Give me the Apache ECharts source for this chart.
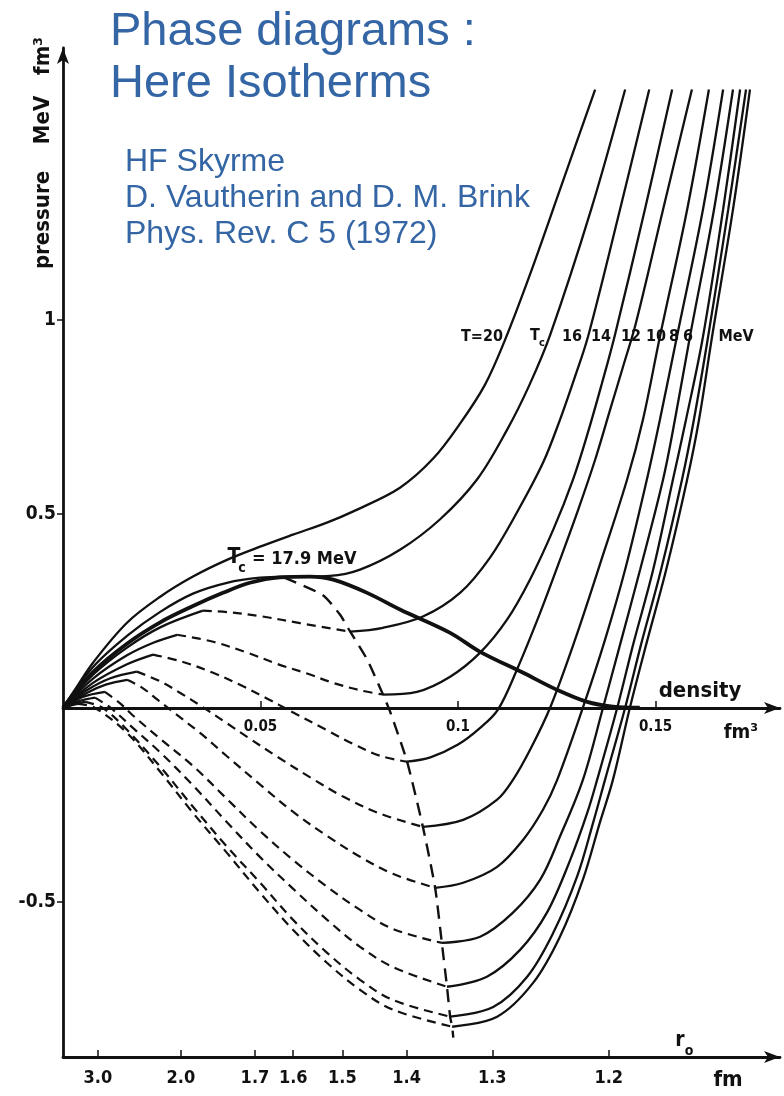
<!DOCTYPE html>
<html><head><meta charset="utf-8">
<script src="https://cdn.jsdelivr.net/npm/echarts@6/dist/echarts.min.js"></script>
<style>html,body{margin:0;padding:0;background:#fff;}#c{width:784px;height:1096px;}</style>
</head><body><div id="c"></div>
<script>
// ---- tick values ----
const densityTicks = [0.05, 0.1, 0.15];
const pressureTicks = [-0.5, 0.5, 1];
const r0Ticks = [3.0, 2.0, 1.7, 1.6, 1.5, 1.4, 1.3, 1.2];

// ---- isotherms above Tc (solid) : [density fm^-3, pressure MeV fm^-3] ----
const isoT20 = [[0,0],[0.003,0.046],[0.0076,0.116],[0.0162,0.219],[0.0246,0.286],[0.0329,0.338],[0.0415,0.381],[0.0499,0.415],[0.0582,0.446],[0.0668,0.477],[0.0739,0.508],[0.0853,0.567],[0.0937,0.642],[0.1005,0.732],[0.1068,0.832],[0.1119,0.948],[0.1182,1.116],[0.1258,1.335],[0.1347,1.593]];
const isoTc = [[0,0],[0.0076,0.105],[0.0162,0.185],[0.0246,0.247],[0.0329,0.294],[0.0415,0.322],[0.0499,0.335],[0.0582,0.338],[0.0676,0.340],[0.0752,0.356],[0.0853,0.407],[0.0954,0.485],[0.1048,0.588],[0.1124,0.716],[0.1180,0.830],[0.1233,0.960],[0.1337,1.284],[0.1423,1.593]];

// ---- coexistence curve (thick) and spinodal (dashed) ----
const coexistence = [[0,0],[0.0076,0.092],[0.0162,0.165],[0.0246,0.220],[0.0329,0.262],[0.0405,0.296],[0.0473,0.322],[0.0549,0.336],[0.0625,0.338],[0.0684,0.330],[0.0770,0.296],[0.0853,0.253],[0.0980,0.193],[0.1056,0.144],[0.1165,0.090],[0.1251,0.046],[0.1327,0.015],[0.1392,0.003],[0.146,0]];
const spinodal = [[0.0560,0.335],[0.0658,0.290],[0.0701,0.240],[0.0727,0.196],[0.0770,0.124],[0.0810,0.034],[0.0828,-0.010],[0.0871,-0.139],[0.0911,-0.307],[0.0942,-0.464],[0.0959,-0.606],[0.0972,-0.719],[0.0980,-0.796],[0.0985,-0.822],[0.0988,-0.850]];

// ---- isotherms below Tc: left solid, dashed middle, right solid ----
const iso16Left = [[0,0],[0.0076,0.085],[0.0162,0.155],[0.0246,0.207],[0.0354,0.250]];
const iso16Mid = [[0.0354,0.250],[0.0420,0.246],[0.0499,0.236],[0.0600,0.218],[0.0727,0.196]];
const iso16Right = [[0.0727,0.196],[0.0810,0.206],[0.0911,0.235],[0.1005,0.296],[0.1081,0.387],[0.1149,0.503],[0.1215,0.631],[0.1258,0.742],[0.1295,0.850],[0.1330,0.960],[0.1410,1.284],[0.1484,1.593]];

const iso14Left = [[0,0],[0.0076,0.075],[0.0162,0.135],[0.0230,0.168],[0.0289,0.188]];
const iso14Mid = [[0.0289,0.188],[0.0380,0.170],[0.0466,0.142],[0.0542,0.113],[0.0618,0.088],[0.0684,0.064],[0.0752,0.045],[0.0810,0.034]];
const iso14Right = [[0.0810,0.034],[0.0896,0.041],[0.0980,0.080],[0.1056,0.142],[0.1124,0.227],[0.1182,0.330],[0.1241,0.459],[0.1291,0.588],[0.1329,0.710],[0.1364,0.835],[0.1397,0.960],[0.1473,1.284],[0.1542,1.593]];

const iso12Left = [[0,0],[0.0076,0.064],[0.0162,0.112],[0.0228,0.137]];
const iso12Mid = [[0.0228,0.137],[0.0304,0.118],[0.0380,0.090],[0.0448,0.059],[0.0516,0.024],[0.0575,-0.008],[0.0668,-0.058],[0.0734,-0.093],[0.0803,-0.124],[0.0871,-0.139]];
const iso12Right = [[0.0871,-0.139],[0.0930,-0.128],[0.1000,-0.095],[0.1056,-0.052],[0.1101,-0.005],[0.1149,0.098],[0.1208,0.245],[0.1258,0.381],[0.1304,0.510],[0.1347,0.639],[0.1385,0.768],[0.1418,0.880],[0.1450,0.990],[0.1519,1.284],[0.1592,1.593]];

const iso10Left = [[0,0],[0.0060,0.045],[0.0120,0.076],[0.0187,0.093]];
const iso10Mid = [[0.0187,0.093],[0.0246,0.068],[0.0300,0.036],[0.0350,0.004],[0.0415,-0.040],[0.0466,-0.075],[0.0542,-0.126],[0.0633,-0.184],[0.0709,-0.229],[0.0803,-0.273],[0.0911,-0.307]];
const iso10Right = [[0.0911,-0.307],[0.1013,-0.289],[0.1099,-0.237],[0.1139,-0.186],[0.1185,-0.103],[0.1233,0],[0.1296,0.175],[0.1359,0.369],[0.1428,0.588],[0.1468,0.742],[0.1511,0.956],[0.1580,1.284],[0.1635,1.593]];

const iso8Left = [[0,0],[0.0060,0.038],[0.0110,0.060],[0.0162,0.072]];
const iso8Mid = [[0.0162,0.072],[0.0200,0.052],[0.0240,0.020],[0.0280,-0.012],[0.0347,-0.065],[0.0415,-0.125],[0.0499,-0.198],[0.0582,-0.268],[0.0668,-0.330],[0.0752,-0.384],[0.0835,-0.428],[0.0942,-0.464]];
const iso8Right = [[0.0942,-0.464],[0.1013,-0.451],[0.1099,-0.410],[0.1165,-0.340],[0.1215,-0.263],[0.1251,-0.186],[0.1316,0],[0.1372,0.175],[0.1423,0.356],[0.1478,0.588],[0.1511,0.742],[0.1554,0.956],[0.1620,1.284],[0.1671,1.593]];

const iso6Left = [[0,0],[0.0050,0.028],[0.0106,0.041]];
const iso6Mid = [[0.0106,0.041],[0.0144,0.012],[0.0177,-0.020],[0.0246,-0.080],[0.0329,-0.150],[0.0415,-0.235],[0.0499,-0.318],[0.0582,-0.392],[0.0668,-0.461],[0.0752,-0.521],[0.0835,-0.570],[0.0959,-0.606]];
const iso6Right = [[0.0959,-0.606],[0.1056,-0.590],[0.1139,-0.528],[0.1208,-0.443],[0.1258,-0.332],[0.1316,-0.186],[0.1367,0],[0.1410,0.162],[0.1461,0.356],[0.1519,0.588],[0.1549,0.742],[0.1587,0.956],[0.1648,1.284],[0.1696,1.593]];

const iso4Left = [[0,0],[0.0040,0.017],[0.0081,0.026]];
const iso4Mid = [[0.0081,0.026],[0.0120,0.000],[0.0177,-0.052],[0.0246,-0.115],[0.0329,-0.200],[0.0415,-0.295],[0.0499,-0.385],[0.0582,-0.466],[0.0668,-0.546],[0.0752,-0.616],[0.0835,-0.668],[0.0972,-0.719]];
const iso4Right = [[0.0972,-0.719],[0.1073,-0.693],[0.1157,-0.624],[0.1225,-0.528],[0.1284,-0.392],[0.1327,-0.271],[0.1352,-0.186],[0.1403,0],[0.1443,0.162],[0.1494,0.356],[0.1544,0.588],[0.1577,0.742],[0.1620,0.956],[0.1671,1.284],[0.1714,1.593]];

const iso2Left = [[0,0],[0.0030,0.010],[0.0056,0.015]];
const iso2Mid = [[0.0056,0.015],[0.0100,0.000],[0.0162,-0.057],[0.0246,-0.152],[0.0329,-0.255],[0.0415,-0.358],[0.0499,-0.451],[0.0582,-0.546],[0.0668,-0.631],[0.0752,-0.701],[0.0835,-0.753],[0.0980,-0.796]];
const iso2Right = [[0.0980,-0.796],[0.1089,-0.771],[0.1175,-0.693],[0.1241,-0.580],[0.1301,-0.436],[0.1342,-0.296],[0.1372,-0.186],[0.1423,0],[0.1463,0.162],[0.1514,0.356],[0.1567,0.588],[0.1597,0.742],[0.1633,0.956],[0.1684,1.284],[0.1729,1.593]];

const iso0Left = [[0,0],[0.0020,0.006],[0.0038,0.010]];
const iso0Mid = [[0.0038,0.010],[0.0080,0.000],[0.0162,-0.065],[0.0246,-0.165],[0.0329,-0.271],[0.0415,-0.374],[0.0499,-0.477],[0.0582,-0.572],[0.0668,-0.657],[0.0752,-0.727],[0.0835,-0.778],[0.0985,-0.822]];
const iso0Right = [[0.0985,-0.822],[0.1099,-0.796],[0.1190,-0.709],[0.1258,-0.590],[0.1316,-0.443],[0.1359,-0.296],[0.1392,-0.186],[0.1435,0],[0.1476,0.162],[0.1527,0.356],[0.1580,0.588],[0.1610,0.742],[0.1643,0.956],[0.1696,1.284],[0.1739,1.593]];

// ---- build ----
const r0Density = r0Ticks.map(r => 3 / (4 * Math.PI * r * r * r));
const r0Labels = r0Ticks.map(r => r.toFixed(1));
const INK = '#111';
const CF = '"DejaVu Sans Condensed","DejaVu Sans",sans-serif';
const BLUE = '#3465a4';
const BF = '"Liberation Sans",Arial,sans-serif';
const XMAX = 0.1815;

function mk(data, type, width, smooth) {
  return {type:'line', data:data, symbol:'none', showSymbol:false, silent:true, animation:false,
    smooth: smooth === undefined ? 0.35 : smooth, xAxisIndex:0, yAxisIndex:0, z:3,
    lineStyle:{color:INK, width:width||2.3, type:type||'solid', cap:'butt'}};
}
const DASH = [9,6];
const series = [
  mk(isoT20), mk(isoTc), mk(coexistence, 'solid', 3.8), mk(spinodal, [13,8], 2.4, 0.2)
];
[[iso16Left,iso16Mid,iso16Right],[iso14Left,iso14Mid,iso14Right],[iso12Left,iso12Mid,iso12Right],
 [iso10Left,iso10Mid,iso10Right],[iso8Left,iso8Mid,iso8Right],[iso6Left,iso6Mid,iso6Right],
 [iso4Left,iso4Mid,iso4Right],[iso2Left,iso2Mid,iso2Right],[iso0Left,iso0Mid,iso0Right]].forEach(g => {
  series.push(mk(g[0])); series.push(mk(g[1], DASH, 2.2)); series.push(mk(g[2]));
});

function txt(x, y, text, font, opts) {
  opts = opts || {};
  return {type:'text', x:x, y:y, rotation:opts.rot||0, silent:true, z:10,
    style:{text:text, font:font, fill:opts.fill||INK, align:opts.align||'center', verticalAlign:'middle'}};
}
const graphics = [
  txt(110, 32, 'Phase diagrams :', '47px ' + BF, {fill:BLUE, align:'left'}),
  txt(110, 84, 'Here Isotherms', '47px ' + BF, {fill:BLUE, align:'left'}),
  txt(125, 162, 'HF Skyrme', '32px ' + BF, {fill:BLUE, align:'left'}),
  txt(125, 198, 'D. Vautherin and D. M. Brink', '32px ' + BF, {fill:BLUE, align:'left'}),
  txt(125, 234, 'Phys. Rev. C 5 (1972)', '32px ' + BF, {fill:BLUE, align:'left'}),
  txt(43, 220, 'pressure', 'bold 22px ' + CF, {rot:Math.PI/2}),
  txt(43, 120, 'MeV', 'bold 22px ' + CF, {rot:Math.PI/2}),
  txt(43, 56, 'fm³', 'bold 22px ' + CF, {rot:Math.PI/2}),
  txt(700, 691, 'density', 'bold 22px ' + CF),
  txt(741, 733, 'fm³', 'bold 20px ' + CF),
  txt(680, 1041, 'r', 'bold 21px ' + CF),
  txt(689, 1051, 'o', 'bold 14px ' + CF),
  txt(728, 1080, 'fm', 'bold 22px ' + CF),
  txt(482, 337, 'T=20', 'bold 16px ' + CF),
  txt(535, 336, 'T', 'bold 16px ' + CF),
  txt(542, 343, 'c', 'bold 11px ' + CF),
  txt(572, 337, '16', 'bold 16px ' + CF),
  txt(601, 337, '14', 'bold 16px ' + CF),
  txt(631, 337, '12', 'bold 16px ' + CF),
  txt(656, 337, '10', 'bold 16px ' + CF),
  txt(674, 337, '8', 'bold 16px ' + CF),
  txt(688, 337, '6', 'bold 16px ' + CF),
  txt(736, 337, 'MeV', 'bold 16px ' + CF),
  txt(234, 558, 'T', 'bold 21px ' + CF),
  txt(242, 568, 'c', 'bold 14px ' + CF),
  txt(252, 559, '= 17.9 MeV', 'bold 18px ' + CF, {align:'left'})
];

const axisLineStyle = {color:INK, width:2.8};
const option = {
  backgroundColor:'#ffffff',
  animation:false,
  grid:[
    {left:63, right:4, top:48, bottom:39, containLabel:false},
    {left:63, right:4, top:48, bottom:388, containLabel:false}
  ],
  xAxis:[
    // bottom axis: r0 (fm), placed on the density scale
    {type:'value', gridIndex:0, min:0, max:XMAX, position:'bottom',
     axisLine:{show:true, onZero:false, symbol:['none','arrow'], symbolSize:[9,16], lineStyle:axisLineStyle},
     axisTick:{show:true, inside:true, length:7, customValues:r0Density, lineStyle:{color:INK, width:1.5}},
     axisLabel:{show:true, customValues:r0Density, margin:12, color:INK, fontFamily:CF, fontWeight:'bold', fontSize:18,
       formatter:v => { let b = 0; for (let i = 0; i < r0Density.length; i++) { if (Math.abs(r0Density[i]-v) < Math.abs(r0Density[b]-v)) b = i; } return r0Labels[b]; }},
     splitLine:{show:false}},
    // density axis along p = 0
    {type:'value', gridIndex:1, min:0, max:XMAX, position:'bottom',
     axisLine:{show:true, onZero:false, symbol:['none','arrow'], symbolSize:[9,16], lineStyle:axisLineStyle},
     axisTick:{show:true, inside:true, length:7, customValues:densityTicks, lineStyle:{color:INK, width:1.5}},
     axisLabel:{show:true, customValues:densityTicks, margin:12, color:INK, fontFamily:CF, fontWeight:'bold', fontSize:15,
       formatter:v => String(v)},
     splitLine:{show:false}}
  ],
  yAxis:[
    {type:'value', gridIndex:0, min:-0.9, max:1.7, position:'left',
     axisLine:{show:true, onZero:false, symbol:['none','arrow'], symbolSize:[9,16], lineStyle:axisLineStyle},
     axisTick:{show:true, inside:false, length:6, customValues:pressureTicks, lineStyle:{color:INK, width:1.5}},
     axisLabel:{show:true, customValues:pressureTicks, margin:7, color:INK, fontFamily:CF, fontWeight:'bold', fontSize:19,
       formatter:v => String(v)},
     splitLine:{show:false}},
    {type:'value', gridIndex:1, min:0, max:1.7, show:false}
  ],
  series:series,
  graphic:graphics
};
const chart = echarts.init(document.getElementById('c'), null, {renderer:'canvas'});
chart.setOption(option);
</script></body></html>
